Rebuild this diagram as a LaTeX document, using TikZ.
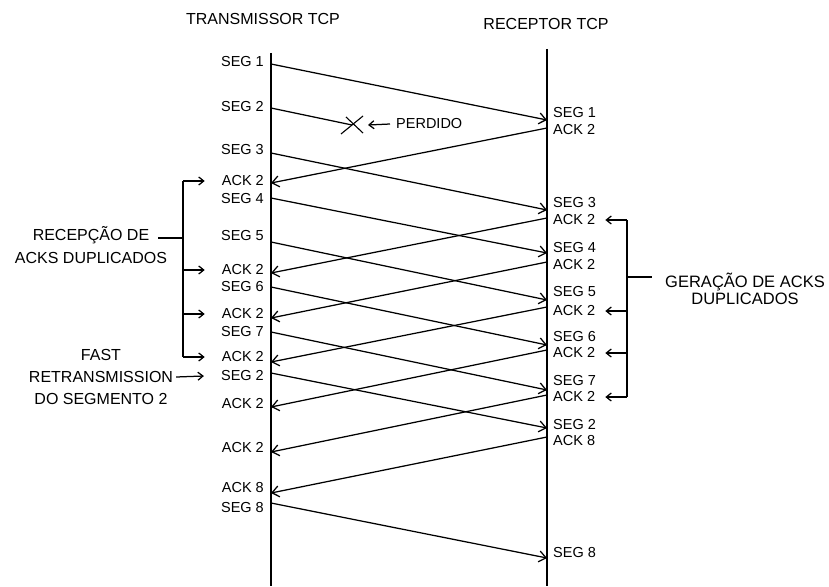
\documentclass[tikz,border=0pt]{standalone}
\usepackage{fontspec}
\setmainfont{Liberation Sans}
\usepackage{tikz}
\usetikzlibrary{arrows.meta,calc}

\begin{document}
\begin{tikzpicture}[
    x=1pt, y=-1pt,
    lbl/.style={font=\fontsize{14.5}{16}\selectfont, inner sep=0pt},
    title/.style={font=\fontsize{16}{18}\selectfont, inner sep=0pt},
    note/.style={font=\fontsize{16}{23}\selectfont, align=center, inner sep=0pt},
    timeline/.style={line width=1.5pt},
    msg/.style={line width=1.25pt, -{Straight Barb[length=7pt,width=11pt]}},
    bracket/.style={line width=1.25pt},
    pointer/.style={line width=1.25pt, -{Straight Barb[length=5pt,width=8pt]}}
]
\useasboundingbox (0,0) rectangle (829,586);

% the two hosts
\node[title] (tx) at (263,19) {TRANSMISSOR TCP};
\node[title] (rx) at (546,24) {RECEPTOR TCP};
\coordinate (ltop) at (271,53);
\coordinate (lbot) at (271,586);
\coordinate (rtop) at (547,49);
\coordinate (rbot) at (547,586);
\draw[timeline] (ltop) -- (lbot);
\draw[timeline] (rtop) -- (rbot);

% labels on the sender side
\foreach \n/\y/\t in {lseg1/62/SEG 1, lseg2/107/SEG 2, lseg3/150/SEG 3,
    lack1/181/ACK 2, lseg4/199/SEG 4, lseg5/236/SEG 5, lack2/270/ACK 2,
    lseg6/287/SEG 6, lack3/314/ACK 2, lseg7/332/SEG 7, lack4/357/ACK 2,
    lsegr/376/SEG 2, lack5/404/ACK 2, lack6/448/ACK 2, lack8/488/ACK 8,
    lseg8/508/SEG 8}
    \node[lbl, anchor=east] (\n) at (264,\y) {\t};

% labels on the receiver side
\foreach \n/\y/\t in {rseg1/113/SEG 1, rack1/130/ACK 2, rseg3/203/SEG 3,
    rack2/220/ACK 2, rseg4/248/SEG 4, rack3/265/ACK 2, rseg5/292/SEG 5,
    rack4/311/ACK 2, rseg6/337/SEG 6, rack5/353/ACK 2, rseg7/381/SEG 7,
    rack6/397/ACK 2, rsegr/425/SEG 2, rack8/441/ACK 8, rseg8/553/SEG 8}
    \node[lbl, anchor=west] (\n) at (553,\y) {\t};

% segments, sender -> receiver
\foreach \n/\ya/\yb in {seg1/64/120, seg3/153/210, seg4/198/253,
    seg5/242/300, seg6/287/345, seg7/332/390, segr/373/428, seg8/503/558} {
    \coordinate (\n-s) at (271,\ya);
    \coordinate (\n-e) at (547,\yb);
    \draw[msg] (\n-s) -- (\n-e);
}

% acks, receiver -> sender
\foreach \n/\ya/\yb in {ack1/128/183, ack2/218/273, ack3/262/318,
    ack4/307/362, ack5/350/407, ack6/395/452, ack8/437/493} {
    \coordinate (\n-s) at (547,\ya);
    \coordinate (\n-e) at (271,\yb);
    \draw[msg] (\n-s) -- (\n-e);
}

% lost segment
\coordinate (seg2-s) at (271,108);
\coordinate (lost) at (352,125);
\coordinate (losttip) at (368,125);
\draw[line width=1.25pt] (seg2-s) -- (lost);
\draw[line width=1.1pt] ($(lost)+(-11,9)$) -- ($(lost)+(11,-9)$);
\draw[line width=1.1pt] ($(lost)+(-6,-8)$) -- ($(lost)+(11,8)$);
\node[lbl, anchor=west] (perdido) at (396,124) {PERDIDO};
\draw[pointer] ([xshift=-6pt]perdido.west) -- (losttip);

% duplicated acks received
\node[note] (recep) at (91,245) {RECEPÇÃO DE\\ACKS DUPLICADOS};
\coordinate (lbrack) at (183,238);
\coordinate (lstem) at (158,238);
\draw[bracket] (lstem) -- (lbrack);
\draw[bracket] (lbrack |- lack1) -- (lbrack |- lack4);
\foreach \n in {lack1,lack2,lack3,lack4}
    \draw[pointer] (lbrack |- \n) -- ([xshift=-17pt]\n.west);

% fast retransmission
\node[note, font=\fontsize{16}{22}\selectfont] (fast) at (101,377) {FAST\\RETRANSMISSION\\DO SEGMENTO 2};
\draw[pointer] ([xshift=3pt]fast.east) -- ([xshift=-17pt]lsegr.west);

% duplicated acks generated
\node[note, font=\fontsize{16.5}{17}\selectfont] (gera) at (745,289) {GERAÇÃO DE ACKS\\DUPLICADOS};
\coordinate (rbrack) at (627,277);
\coordinate (rstem) at (652,277);
\draw[bracket] (rbrack) -- (rstem);
\draw[bracket] (rbrack |- rack2) -- (rbrack |- rack6);
\foreach \n in {rack2,rack4,rack5,rack6}
    \draw[pointer] (rbrack |- \n) -- ([xshift=10pt]\n.east);
\end{tikzpicture}
\end{document}
